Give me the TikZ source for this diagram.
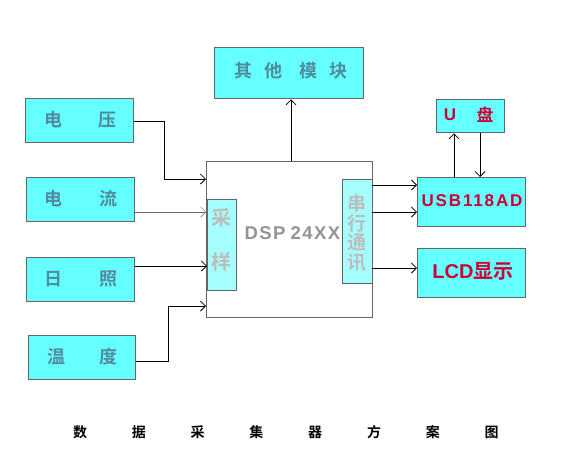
\documentclass[tikz,border=0pt]{standalone}
\usepackage{fontspec}
\setmainfont{Liberation Sans}
\newfontfamily\cjk{Noto Sans CJK SC}[BoldFont={* Bold}]
\usetikzlibrary{arrows.meta}
\definecolor{boxfill}{HTML}{66FFFF}
\definecolor{lightfill}{HTML}{A6FFFF}
\definecolor{boxline}{HTML}{666666}
\definecolor{bluetext}{HTML}{4F8C9C}
\definecolor{redtext}{HTML}{CC0033}
\definecolor{paletext}{HTML}{BDBDBD}
\begin{document}
\begin{tikzpicture}[x=1pt,y=-1pt,
  blk/.style={draw=boxline,line width=1.3pt,fill=boxfill,inner sep=0pt,anchor=north west},
  subblk/.style={draw=boxline,line width=1.3pt,fill=lightfill,inner sep=0pt,anchor=north west},
  arr/.style={-{Straight Barb[length=5pt,width=10pt]},line width=0.8pt,black},
  lab/.style={font=\cjk\bfseries\fontsize{18}{20}\selectfont,text=bluetext}]
\useasboundingbox (0,0) rectangle (576,461);
% left input boxes
\node[blk,minimum width=108pt,minimum height=44pt] (v) at (25,98) {};
\node[blk,minimum width=108pt,minimum height=44pt] (i) at (26,177) {};
\node[blk,minimum width=108pt,minimum height=44pt] (s) at (26,257) {};
\node[blk,minimum width=107pt,minimum height=44pt] (t) at (28,335) {};
\node[lab] (vt1) at (53,120) {电};
\node[lab] (vt2) at (107,120) {压};
\node[lab] (it1) at (54,199) {电};
\node[lab] (it2) at (108,199) {流};
\node[lab] (st1) at (54,279) {日};
\node[lab] (st2) at (108,279) {照};
\node[lab] (tt1) at (56,357) {温};
\node[lab] (tt2) at (108,357) {度};
% other module
\node[blk,minimum width=149pt,minimum height=51pt] (o) at (214,47) {};
\node[lab] (ot1) at (243,71) {其};
\node[lab] (ot2) at (273,71) {他};
\node[lab] (ot3) at (308,71) {模};
\node[lab] (ot4) at (338,71) {块};
% DSP
\node[draw=boxline,line width=1pt,fill=white,inner sep=0pt,anchor=north west,minimum width=166pt,minimum height=156pt] (dsp) at (206,161) {};
\node[font=\bfseries\fontsize{18.5}{20}\selectfont\addfontfeature{LetterSpace=8},text=boxline!70,anchor=west] (dspt) at (241,233) {DSP\hspace{5pt}24XX};
\node[subblk,minimum width=29pt,minimum height=91pt] (cy) at (207,199) {};
\node[font=\cjk\bfseries\fontsize{20}{22}\selectfont,text=paletext] (cy1) at (221,218) {采};
\node[font=\cjk\bfseries\fontsize{20}{22}\selectfont,text=paletext] (cy2) at (221,262) {样};
\node[subblk,minimum width=30pt,minimum height=104pt] (cx) at (342,179) {};
\node[font=\cjk\bfseries\fontsize{19}{21}\selectfont,text=paletext,align=center] (cxt) at (357,233) {串\\[-1.5pt]行\\[-1.5pt]通\\[-1.5pt]讯};
% right boxes
\node[blk,minimum width=108pt,minimum height=49pt] (usb) at (417,177) {};
\node[font=\bfseries\fontsize{17}{19}\selectfont\addfontfeature{LetterSpace=11},text=redtext] (usbt) at (472,201) {USB118AD};
\node[blk,minimum width=108pt,minimum height=49pt] (lcd) at (417,248) {};
\node[font=\bfseries\fontsize{20}{22}\selectfont,text=redtext] (lcdt) at (473,271) {LCD{\cjk\bfseries 显示}};
\node[blk,minimum width=68pt,minimum height=33pt] (u) at (436,99) {};
\node[font=\bfseries\fontsize{17}{19}\selectfont,text=redtext] (ut1) at (450,115) {U};
\node[font=\cjk\bfseries\fontsize{17}{19}\selectfont,text=redtext] (ut2) at (485,115) {盘};
% title
\foreach \c [count=\k] in {数,据,采,集,器,方,案,图}
  \node[font=\cjk\bfseries\fontsize{14}{16}\selectfont] (ti\k) at ({80+58.8*(\k-1)},432) {\c};
% connector coordinates
\coordinate (in1) at (206,179);
\coordinate (in2) at (206,212);
\coordinate (in3) at (207,266);
\coordinate (in4) at (206,306);
\coordinate (k1) at (164,121);
\coordinate (k4) at (168,361);
\coordinate (out1) at (372,185);
\coordinate (out2) at (372,212);
\coordinate (out3) at (372,268);
% connectors
\draw[arr] (v.east |- k1) -- (k1) |- (in1);
\draw[arr,line width=0.5pt,draw=boxline] (i.east |- in2) -- (in2);
\draw[arr] (s.east |- in3) -- (in3);
\draw[arr] (t.east |- k4) -- (k4) |- (in4);
\draw[arr] (dsp.north -| 291,0) -- (o.south -| 291,0);
\draw[arr] (out1) -- (usb.west |- out1);
\draw[arr] (out2) -- (usb.west |- out2);
\draw[arr] (out3) -- (lcd.west |- out3);
\draw[arr] (usb.north -| 454,0) -- (u.south -| 454,0);
\draw[arr] (u.south -| 480,0) -- (usb.north -| 480,0);
\end{tikzpicture}
\end{document}
